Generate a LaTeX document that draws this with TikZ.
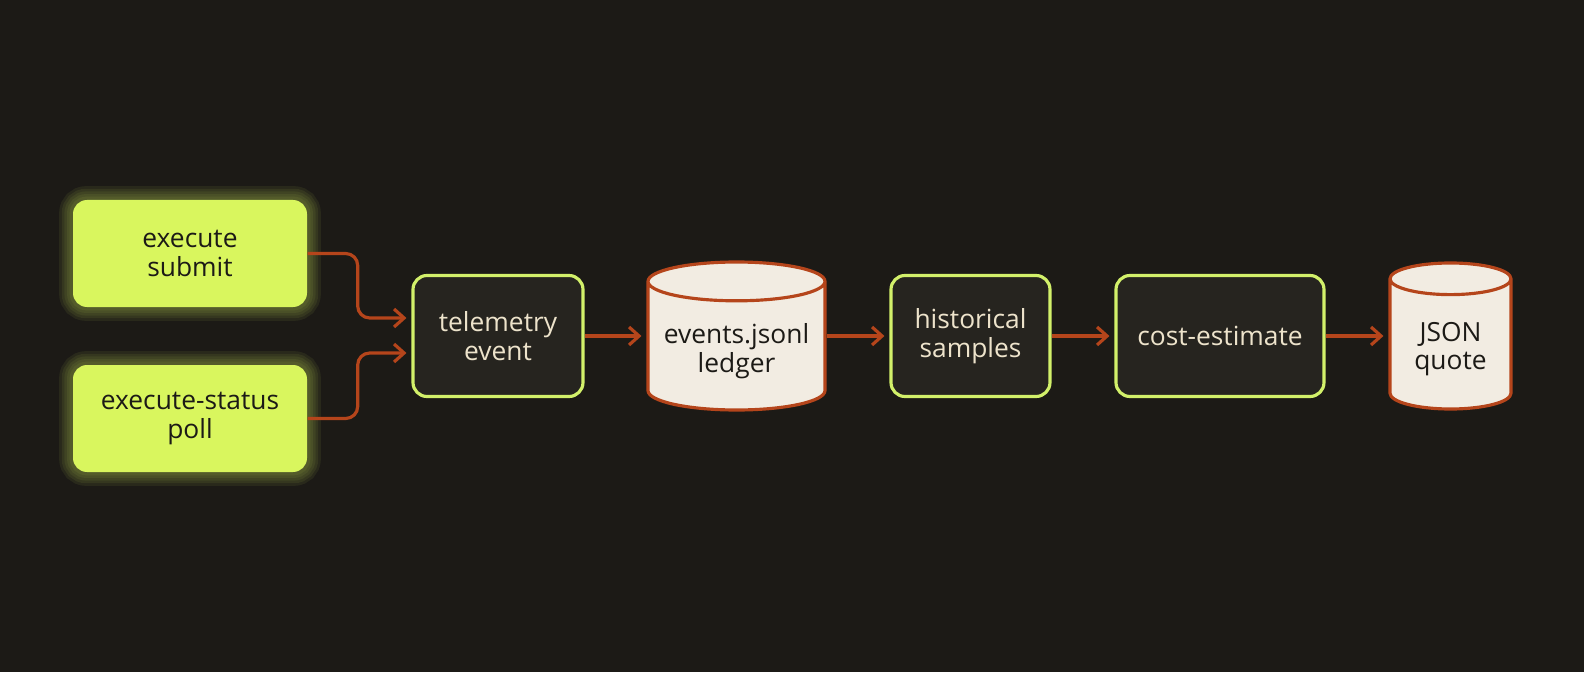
\documentclass[tikz,border=0pt]{standalone}
\usepackage{fontspec}
\setmainfont{Open Sans}
\usetikzlibrary{positioning, shapes.geometric, arrows.meta}
\definecolor{bgc}{HTML}{1C1A16}
\definecolor{limec}{HTML}{D9F65E}
\definecolor{edgec}{HTML}{D2F06A}
\definecolor{boxc}{HTML}{26241F}
\definecolor{flowc}{HTML}{B5451B}
\definecolor{creamc}{HTML}{F2ECE2}
\definecolor{textc}{HTML}{EDE3CB}
\definecolor{inkc}{HTML}{1C1A16}
\newcommand{\labelfont}{\fontsize{7.5pt}{8.1pt}\selectfont}
\tikzset{
  srcbox/.style={rectangle, rounded corners=0.14cm, fill=limec, text=inkc, minimum width=2.34cm, minimum height=1.07cm, align=center, font=\labelfont},
  stepbox/.style={rectangle, rounded corners=0.14cm, draw=edgec, line width=0.9pt, fill=boxc, text=textc, minimum height=1.21cm, align=center, font=\labelfont},
  dbnode/.style={cylinder, shape border rotate=90, anchor=shape center, draw=flowc, line width=0.9pt, fill=creamc, text=inkc, align=center, font=\labelfont},
  flow/.style={draw=flowc, line width=0.9pt, -{Straight Barb[length=0.1cm, width=0.18cm]}, shorten >=0.05cm},
}

\begin{document}
\begin{tikzpicture}
        %draw background
        \fill[bgc] (0,0) rectangle (15.84,6.72);
        \useasboundingbox (0,0) rectangle (15.84,6.72);
        %draw sources
        \node[srcbox] (submit) at (1.90,4.185) {execute\\submit};
        \node[srcbox] (poll) at (1.90,2.535) {execute-status\\poll};
        %glow around sources
        \foreach \n in {submit,poll}
            \foreach \w in {1.5,3,...,7.5}
                \draw[limec, opacity=0.07, line width=\w pt, rounded corners=0.14cm] (\n.south west) rectangle (\n.north east);
        %draw pipeline
        \node[stepbox, minimum width=1.70cm] (tele) at (4.98,3.36) {telemetry\\event};
        \node[dbnode, aspect=0.23, minimum width=1.77cm, minimum height=1.48cm] (ledger) at (7.365,3.36) {events.jsonl\\ledger};
        \node[stepbox, minimum width=1.59cm] (hist) at (9.705,3.36) {historical\\samples};
        \node[stepbox, minimum width=2.08cm] (cost) at (12.20,3.36) {cost-estimate};
        \node[dbnode, aspect=0.33, minimum width=1.21cm, minimum height=1.46cm] (quote) at (14.505,3.36) {JSON\\quote};
        %draw arrows
        \draw[flow, rounded corners=0.12cm] (submit.east) -- ++(0.5,0) |- ([yshift=0.18cm]tele.west);
        \draw[flow, rounded corners=0.12cm] (poll.east) -- ++(0.5,0) |- ([yshift=-0.17cm]tele.west);
        \draw[flow] (tele.east) -- (tele.east -| ledger.west);
        \draw[flow] (ledger.east |- hist.west) -- (hist.west);
        \draw[flow] (hist.east) -- (cost.west);
        \draw[flow] (cost.east) -- (cost.east -| quote.west);
\end{tikzpicture}
\end{document}
